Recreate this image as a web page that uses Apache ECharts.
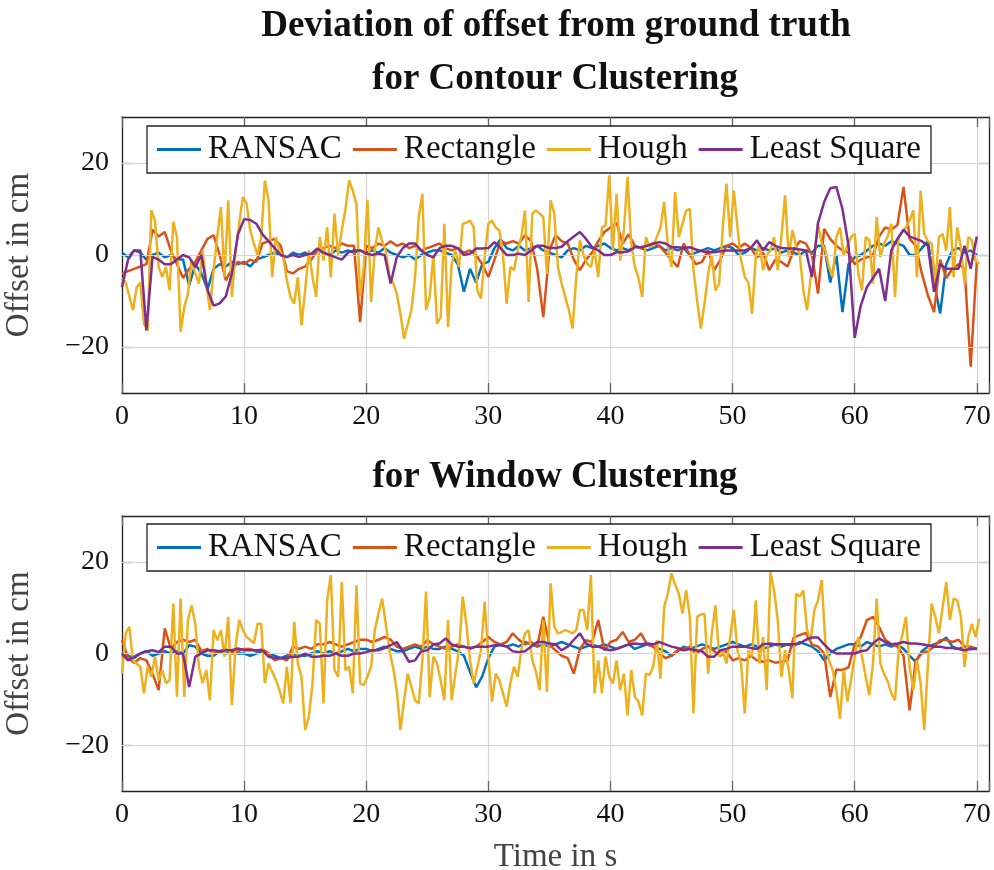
<!DOCTYPE html>
<html>
<head>
<meta charset="utf-8">
<script src="https://cdn.jsdelivr.net/npm/echarts@6/dist/echarts.min.js"></script>
<style>html,body{margin:0;padding:0;background:#fff;}#chart{width:994px;height:870px;}</style>
</head>
<body>
<div id="chart"></div>
<script>
// ---------- data ----------
const seriesNames = ['RANSAC', 'Rectangle', 'Hough', 'Least Square'];
const seriesColors = ['#0072BD', '#D95319', '#EDB120', '#7E2F8E'];
const stepSlow = 0.5;   // sampling of RANSAC / Rectangle / Least Square (s)
const stepHough = 0.3;  // sampling of Hough (s)
const xTicks = [0, 10, 20, 30, 40, 50, 60, 70];
const yTicks = [-20, 0, 20];

// Contour clustering
const contourRansac = [
  0.5, -0.5, 1, 0.5, -1, 0, 0.5, -0.5, 0, -1,
  -1, -6.6, -2, -4, -7.5, -3, -2, -2.5, -1.5, -2,
  -1.5, -2.5, -1, -0.5, 0, 0.5, 0, -0.5, 0.5, 0,
  0.5, 0, 1, 0.5, 0, 1, 0.5, 1, 0.5, 1,
  0.5, 1, 0.5, 1.5, 0.5, 0, -0.5, 0, -1, 0,
  0.5, 1, 1, 0.5, 0, -2, -8, -3, -6, -2,
  -1.5, 1.5, 3.5, 1.5, 1, 2, 1, 1.5, 2, 1,
  0.5, 0, -0.5, 1, 1.5, 1, 2, 1.5, 2, 2.5,
  1.5, 1, 1.5, 1, 2, 1.5, 1, 1.5, 2, 1,
  1.5, 1, 1.5, 0, 0.5, 1, 1.5, 1, 1.5, 2,
  1.5, 0, 0.5, 1.5, 1, 1.5, 1, 1.5, 0.5, 1,
  0.5, 0, 1, 0.5, 2, 2, -6, 0, -12.4, -2,
  -0.5, 0, 1, 2, 2.5, 2, 3, 2.5, 2, 0,
  0, 1.5, 3, -6, -12.7, -2, 1, 1.5, 0.5, 1,
  0
];
const contourRect = [
  -4, -3.5, -3, -2.5, -2, 5.5, 4, 5, 1, -2,
  -5, -3, -1.5, 1, 3.5, 4.3, 0, -5.5, -3, -1.5,
  -2, -1, -1.5, 2.5, 3, 3.5, 2, -3.5, -4, -3,
  -2.5, -1, 1, 1.5, 2, 1.5, 2.5, 2, 2, -14.6,
  2, 1.5, 2.5, 2, 3, 2, 2.5, 1.5, 2, 1,
  1.5, 2, 2.5, 1.5, 1, 1.5, 0.5, 1, 0, -2,
  -4.8, -1, 3, 2.5, 3, 2.5, 4.3, 3, -3, -13.5,
  1, 4.3, 3, 2.5, -1, -3.3, -1, 0.5, 3, 5,
  6, 7, 2.5, 4.5, 2, 1.5, 2, 2.5, 2, 0.5,
  -1, -2.6, 2.5, 0, -2, -1.5, 1, -3.3, -1, 2,
  2.5, 1.5, 2.5, 1.5, -0.5, 0.5, -3.3, -1, -1.5, -2.5,
  1, 3, 2.5, 0, -8.4, 5.7, 3.5, 2, 1, 0.5,
  -2, -1, -0.5, 0, 4, 6, 5.5, 6.5, 14.8, 3.5,
  2, -4, -8.8, -12.4, -1, -5, -3, -2, -3, -24.3,
  -1.5
];
const contourHough = [
  -5, -6, -9, -12, -7, -6, -15, -16.4, 9.7, 7.5,
  -2.6, -4.8, -2.6, -7.7, 7.2, 3.9, -16.7, -11.3, -8.4, -1.2,
  -4, -6.2, 1, -6.2, -12, -3.3, 4, 10.4, -4.8, 11.9,
  -9.1, 1, 7, 12.6, 11.2, 5.4, 2.5, 0, 3.9, 16.2,
  11.9, -4.8, 3.9, 1, -0.4, -5.5, -9.1, -10.6, -4.8, -15.3,
  -7.7, 1, -4.8, -9.1, 3.9, -1.2, 6, -4.8, 9, 0,
  5.4, 10, 16.2, 14, 11, -9, -2.6, 12, -10.2, 1,
  6, 3, 1, -4.8, -6, -8.4, -12.8, -18.2, -15, -12,
  -4.8, 8.3, 13.3, -12, -9.1, 0, -14.9, -13.5, 6.8, -15.7,
  -1.9, 1, -2.6, 6.8, 7, 7.5, 6, -7.7, -9.5, -0.4,
  6.8, 7.5, 6, 5.4, 0, -10.6, -2.6, -3.3, 1, 4,
  9.7, -10.2, 9, 9.7, 9, 8.3, -4.1, 11.9, 9, -2.6,
  -6.2, -9.1, -12, -16, -4.8, 3.2, 0, -1.9, -2.6, 1,
  -4.8, 6, 6.4, 17.3, 1, 13.3, -1.2, 5.4, 17, 2.5,
  -2.6, -5, -9.1, 3.9, 1.7, 2, 3.9, 6, 11.5, 2,
  -2.6, 13.7, 3.9, 6.8, 9.7, 10, -3.3, -9.9, -16, -10.6,
  -4.1, 0, -7.7, -6.2, 6, 15.5, 3.9, 14, 6, -1.2,
  -4.8, -6, -12.8, -0.4, 2.5, -3.3, 0, 1, 3.9, -3.3,
  4, 13, -0.4, 5.4, 2, 0, -7.7, -12, -4.8, -0.4,
  6.8, 2.5, 1, -2.6, -4.8, 3.9, 6, 0, 2, 3.9,
  4.6, -4.1, -7.7, 3.9, 3.2, -6.2, 8.3, -0.4, 2.5, 4,
  6.8, -9.1, 3.9, 5, 6, 7.5, 9.7, -4.8, 14, 4.6,
  3, 2.5, -6.2, 3.9, 4.6, 1, 10.4, -4.8, 6, 1.7,
  -6.2, 3.9, 3.2, -1.2, -1.9
];
const contourLS = [
  -7, -1, 1, 1, -16.4, -0.4, -1, -2, -2, -1,
  0, -0.5, -2.6, 0, -7.5, -11, -10.5, -9, -4, 4.5,
  7.8, 7.6, 6.8, 4.5, 3, 1.5, 0, -0.4, 0, -0.4,
  0, 0.3, 1.4, 0.5, 0, -0.5, -1, 0.5, 1, 1,
  0.3, 0, 0.3, 0, -6.2, -0.5, 1.5, 2.5, 2.5, 1,
  0, -0.5, 1.5, 2, 2, 1.5, 0, 0.3, 1.4, 1.4,
  1.5, 2.8, 1.5, 0, 0, 0.3, 0, 1, 2, 2,
  1.5, 1.5, 1.8, 3, 4, 5, 3.5, 1.7, 1, 0,
  0, 0.6, 0.6, 0.8, 1.7, 1.7, 2, 2.5, 2.8, 2.5,
  1.7, 1.7, 1.5, 1.7, 1.2, 0.8, 0.6, 0.6, 0.8, 1,
  1, 1, 1, 1.5, 3.2, 1, 2.8, 2, 1.5, 1.4,
  1.4, 1.2, 1, -4.8, 7, 11.5, 14.5, 14.8, 10, 2,
  -18, -11, -7, -5, -3, -10, 1, 3.5, 5.5, 4,
  3.5, 3, 2, -8, -2, -3, -3, -3, 2, -3,
  4
];

// Window clustering
const windowRansac = [
  0, -0.5, -1, 0, 0.5, -0.5, 0, 0.5, 0, 0.5,
  0, 1.8, 1.5, 0, -0.5, -0.5, 0.5, 0, 0.5, 0,
  0, -0.5, 0, 0.5, 0, -0.5, -1, -0.5, 0, -0.5,
  -0.5, 0, 0.5, 0, 0.5, 0, 0.5, 1, 0.5, 1,
  1, 0.5, 1, 1.5, 1, 0.5, 0.5, 1, 1.5, 1,
  1.5, 1, 1, 1.5, 1, 0.5, -0.5, -4, -7.4, -5,
  -1, 1.5, 2, 1.5, 2, 1.5, 2.5, 2, 1.5, 2,
  1.5, 2, 2.5, 2, 1.5, 1, 1.5, 2, 1.5, 2,
  1.5, 1, 1.5, 2, 1, 1.5, 2, 1.5, 1, 0.5,
  -0.5, 0.5, 1.5, 1, 1.5, 2, 1.5, 1, 1.5, 2,
  2.5, 2, 1.5, 2, 1.5, 1, 1.5, 2, 1.5, 2,
  1.5, 2.5, 2, 1.5, 0.5, -1.5, 0, 1, 1.5, 2,
  2, 1.5, 2.5, 2, 1.5, 2, 1.5, 2, 1, -0.5,
  -1.8, 0.5, 1.5, 2, 2.5, 3.5, 1.5, 1, 1.5, 1,
  1
];
const windowRect = [
  3, -1, -2, -1, -1.5, -4.4, -8, 5.5, 1, 2.5,
  3, 2.5, 3, 0.5, 1, 0, 0.5, 1, 0, 0.5,
  1, 1, 0.5, 1, 0, -1.5, -1, -1.5, 1.5, 1,
  1.5, 1, 2, 2, 2.5, 2, 1.5, 2, 2.5, 3,
  3, 2.5, 3, 3.6, 3, 1.5, 1, 1.5, 2, 1.5,
  2.9, 2, 1.5, 1, 1.5, 2, 1.5, 1, 1.5, 2.5,
  3.6, 2.5, 2, 2.5, 4.4, 3, 2, 2.5, 1.5, 8,
  2, 0.7, -0.5, -1, -4.4, 1, 2.9, 2.5, 7.3, 0.7,
  2.5, 3, 4.7, 2.5, 3, 4.4, 2, 1.5, 0, -1,
  -0.5, 0.7, 1, 1.5, 0, 1, 1.5, 0.5, -0.5, 0.5,
  -1.5, -1, -1.5, -0.5, -1.5, -1.8, -1.5, -2, -1.8, -1.5,
  3.5, 4, 4.5, 2, 1.5, 0, -9.5, -3.5, -3.6, -3,
  2, 3.6, 7.3, 8, 5.8, 3, 2, 1.5, -0.5, -12.4,
  -1.5, 0, 0.5, 1.5, 2.9, 3, 2.5, 3, 1.5, 1.5,
  1
];
const windowHough = [
  -4.4, 4.4, 5.8, -1.5, -2.2, -2.9, -8.7, -2.9, -5.1, -0.7,
  -5.8, -3.6, -6.5, -5.8, 10.9, -9.5, 12, -9.5, 7.3, 10.5,
  6.5, -2.9, -6.5, -3.6, -10.2, 5.1, 2.9, 5.1, -0.7, 8,
  -11.3, 1.5, 7.3, 5.1, 3.6, 3, 2.2, 6.5, 6.5, -6.5,
  -2.2, -4, -5.8, -8, -10.9, -2.9, -10.9, 6.9, -2.2, -5.1,
  -16.7, -13.8, -6.5, 7.3, 6.5, -10.9, 11.6, 17.1, -3.6, -5.1,
  15.6, -3.6, -2.9, -8.7, 14.9, -6.5, -6.9, -5, -2.9, 5,
  8.7, 12, 6.5, 0.7, -3, -8, -16.7, -10.2, -4.4, -7.3,
  -10.2, -10.9, -1.5, 13.5, -9.5, -0.7, -2.2, -6, -10.2, 7.3,
  -10.2, -4.4, 0.7, 12.4, 6.5, -1.5, -6.5, -3, 0.7, 11.3,
  -0.7, -10.5, -4.4, -5.8, -8.7, -11.6, -6.5, -2.9, -5.1, 0.7,
  4.4, 5.1, -1.5, -4, -8, 7.3, -8.4, 15.3, 5.8, 4.4,
  4.7, 5.1, 4.8, 4.4, 5.1, 9.5, 9.5, 5.1, 17.1, -8.7,
  -1.5, -8.7, -0.7, -5.1, -6.5, -1.5, -8, -4.4, -13.5, -3.6,
  -9.5, -10.5, -13.5, -4.4, -4.7, -2.9, 2.9, -5.5, 10.2, 13.1,
  17.5, 15, 13.1, 8.7, 13.8, 8, -13.1, 8, 8.5, 8.7,
  -4.4, 4.4, 10.5, -0.7, 0.7, -2.2, 3.6, 9.5, 0.7, -2.2,
  -13.1, 0.7, -0.7, 11.6, -2.2, 3.6, -8, 17.8, 13.8, 7.3,
  -5.1, 0.7, -3.6, -9.8, 13.1, 12.4, 13.8, 5.1, 2.9, 9.5,
  11.6, 16, 2.2, -1.5, -3.6, -8, -14.2, -3.6, -10.5, -5.8,
  -0.7, 3.6, -0.7, -5, -9.1, -2.2, 12, -2.2, -4.4, -6,
  -8.7, -10.2, 0.7, 4, 8, -2.9, -8, -1.5, -6.5, -16.7,
  -2.2, 10.9, 8, 4.4, 10, 15.6, 7.3, 12, 11.6, 8,
  -2.9, 3.6, 6.5, 3.6, 7.6
];
const windowLS = [
  0, -1.5, -0.7, 0, 0.5, 0.7, 0.3, 1.5, 1.5, 0,
  0, -7.3, -0.7, 0, 0.7, 0.7, 0.5, 0.7, 0.7, 1.1,
  0.7, 0.7, 0.7, 0.7, -0.7, -1, -1, -1, -0.7, -0.7,
  0, -0.7, -0.7, -0.5, -0.5, 0, -0.5, -0.5, 0, 0,
  0.3, 0.7, 0.7, 1.2, 1.8, 2.5, 0.5, -1.8, -1.5, 0.5,
  0.7, 2, 2.2, 3.3, 2, 1.5, 1.5, 1.2, 1.5, 1.5,
  1.5, 1.8, 1.8, 1.5, 0.5, 0.3, 0.5, 1.5, 2.5, 2.5,
  2.2, 2, 0.7, 1.5, 3, 4.4, 2.2, 1.5, 1.5, 1,
  0.7, 1, 1.5, 2, 2.2, 2, 2.2, 2, 2.5, 2,
  1.5, 1.2, 0.7, 1, 0.7, 0.5, -0.7, -0.7, 0.7, 1,
  1.5, 1.5, 1.5, 1.2, 1, 2, 2.2, 2, 2, 2,
  2, 2.2, 3, 3.5, 3.5, 2, 0.7, 0, 0, 0,
  0, 0.5, 0.7, 2.2, 3.3, 2.5, 2, 2.2, 2.5, 2.2,
  2.2, 2, 1.8, 1.5, 1.5, 1.2, 1.2, 1, 0.7, 1,
  1.1
];

// ---------- chart ----------
const FONT = "'Liberation Serif', 'Times New Roman', serif";
const GRID_COLOR = '#d3d3d3';
const toPairs = (arr, step) => arr.map((v, i) => [Math.round(i * step * 100) / 100, v]);

const panels = [
  [contourRansac, contourRect, contourHough, contourLS],
  [windowRansac, windowRect, windowHough, windowLS]
];
const steps = [stepSlow, stepSlow, stepHough, stepSlow];

const grids = [
  { left: 122, top: 117, width: 867, height: 276 },
  { left: 122, top: 516, width: 867, height: 275 }
];

const xAxes = [], yAxes = [], series = [];
grids.forEach((g, gi) => {
  xAxes.push({
    type: 'value', gridIndex: gi, min: 0, max: 71, interval: 10,
    axisLine: { show: true, onZero: false, lineStyle: { color: '#222', width: 1.3 } },
    axisTick: { show: true, inside: true, length: 10, lineStyle: { color: '#666', width: 1.3 } },
    axisLabel: {
      fontFamily: FONT, fontSize: 28, color: '#111', margin: 10,
      formatter: v => (xTicks.includes(v) ? String(v) : '')
    },
    splitLine: { show: true, lineStyle: { color: GRID_COLOR, width: 1.2 } },
    name: gi === 1 ? 'Time in s' : '', nameLocation: 'middle', nameGap: 50,
    nameTextStyle: { fontFamily: FONT, fontSize: 33, color: '#444' }
  });
  xAxes.push({
    type: 'value', gridIndex: gi, min: 0, max: 71, interval: 10, position: 'top',
    axisLine: { show: true, onZero: false, lineStyle: { color: '#222', width: 1.3 } },
    axisTick: { show: true, inside: true, length: 10, lineStyle: { color: '#666', width: 1.3 } },
    axisLabel: { show: false }, splitLine: { show: false }
  });
  yAxes.push({
    type: 'value', gridIndex: gi, min: -30, max: 30, interval: 10,
    axisLine: { show: true, onZero: false, lineStyle: { color: '#222', width: 1.3 } },
    axisTick: {
      show: true, inside: true, length: 10, lineStyle: { color: '#666', width: 1.3 },
      customValues: yTicks
    },
    axisLabel: {
      fontFamily: FONT, fontSize: 28, color: '#111', margin: 13,
      customValues: yTicks,
      formatter: v => (v < 0 ? '\u2212' + Math.abs(v) : String(v))
    },
    splitLine: { show: false },
    name: 'Offset in cm', nameLocation: 'middle', nameGap: 86, nameRotate: 90,
    nameTextStyle: { fontFamily: FONT, fontSize: 33, color: '#444' }
  });
  yAxes.push({
    type: 'value', gridIndex: gi, min: -30, max: 30, interval: 10, position: 'right',
    axisLine: { show: true, onZero: false, lineStyle: { color: '#222', width: 1.3 } },
    axisTick: {
      show: true, inside: true, length: 10, lineStyle: { color: '#666', width: 1.3 },
      customValues: yTicks
    },
    axisLabel: { show: false }, splitLine: { show: false }
  });
});

panels.forEach((arrs, gi) => {
  // horizontal grid lines at the y tick values
  series.push({
    type: 'line', xAxisIndex: gi * 2, yAxisIndex: gi * 2, data: [], z: 1, silent: true,
    markLine: {
      silent: true, symbol: ['none', 'none'], label: { show: false }, animation: false,
      lineStyle: { color: GRID_COLOR, width: 1.2, type: 'solid' },
      data: yTicks.map(v => ({ yAxis: v }))
    }
  });
  arrs.forEach((arr, si) => {
    series.push({
      name: seriesNames[si], type: 'line',
      xAxisIndex: gi * 2, yAxisIndex: gi * 2,
      data: toPairs(arr, steps[si]),
      showSymbol: false, symbol: 'none',
      lineStyle: { color: seriesColors[si], width: 2.5 },
      itemStyle: { color: seriesColors[si] },
      z: 2 + si, animation: false
    });
  });
});

const legendBase = {
  left: 147, itemWidth: 44, itemHeight: 3, itemGap: 11, icon: 'rect',
  padding: [7, 10], borderColor: '#222', borderWidth: 1.3, backgroundColor: '#fff',
  textStyle: { fontFamily: FONT, fontSize: 33, color: '#111', padding: [0, 0, 0, 2] },
  data: seriesNames, selectedMode: false, z: 20
};

const option = {
  backgroundColor: '#fff',
  animation: false,
  title: [
    { text: 'Deviation of offset from ground truth', left: 551, top: 3, textAlign: 'center',
      textStyle: { fontFamily: FONT, fontSize: 37, fontWeight: 'bold', color: '#111' } },
    { text: 'for Contour Clustering', left: 550, top: 56, textAlign: 'center',
      textStyle: { fontFamily: FONT, fontSize: 37, fontWeight: 'bold', color: '#111' } },
    { text: 'for Window Clustering', left: 550, top: 454, textAlign: 'center',
      textStyle: { fontFamily: FONT, fontSize: 37, fontWeight: 'bold', color: '#111' } }
  ],
  legend: [
    Object.assign({}, legendBase, { top: 126 }),
    Object.assign({}, legendBase, { top: 524 })
  ],
  grid: grids.map(g => Object.assign({ show: false, containLabel: false, outerBoundsMode: 'none' }, g)),
  xAxis: xAxes,
  yAxis: yAxes,
  series: series
};

const chart = echarts.init(document.getElementById('chart'), null, { renderer: 'canvas' });
chart.setOption(option);
</script>
</body>
</html>
